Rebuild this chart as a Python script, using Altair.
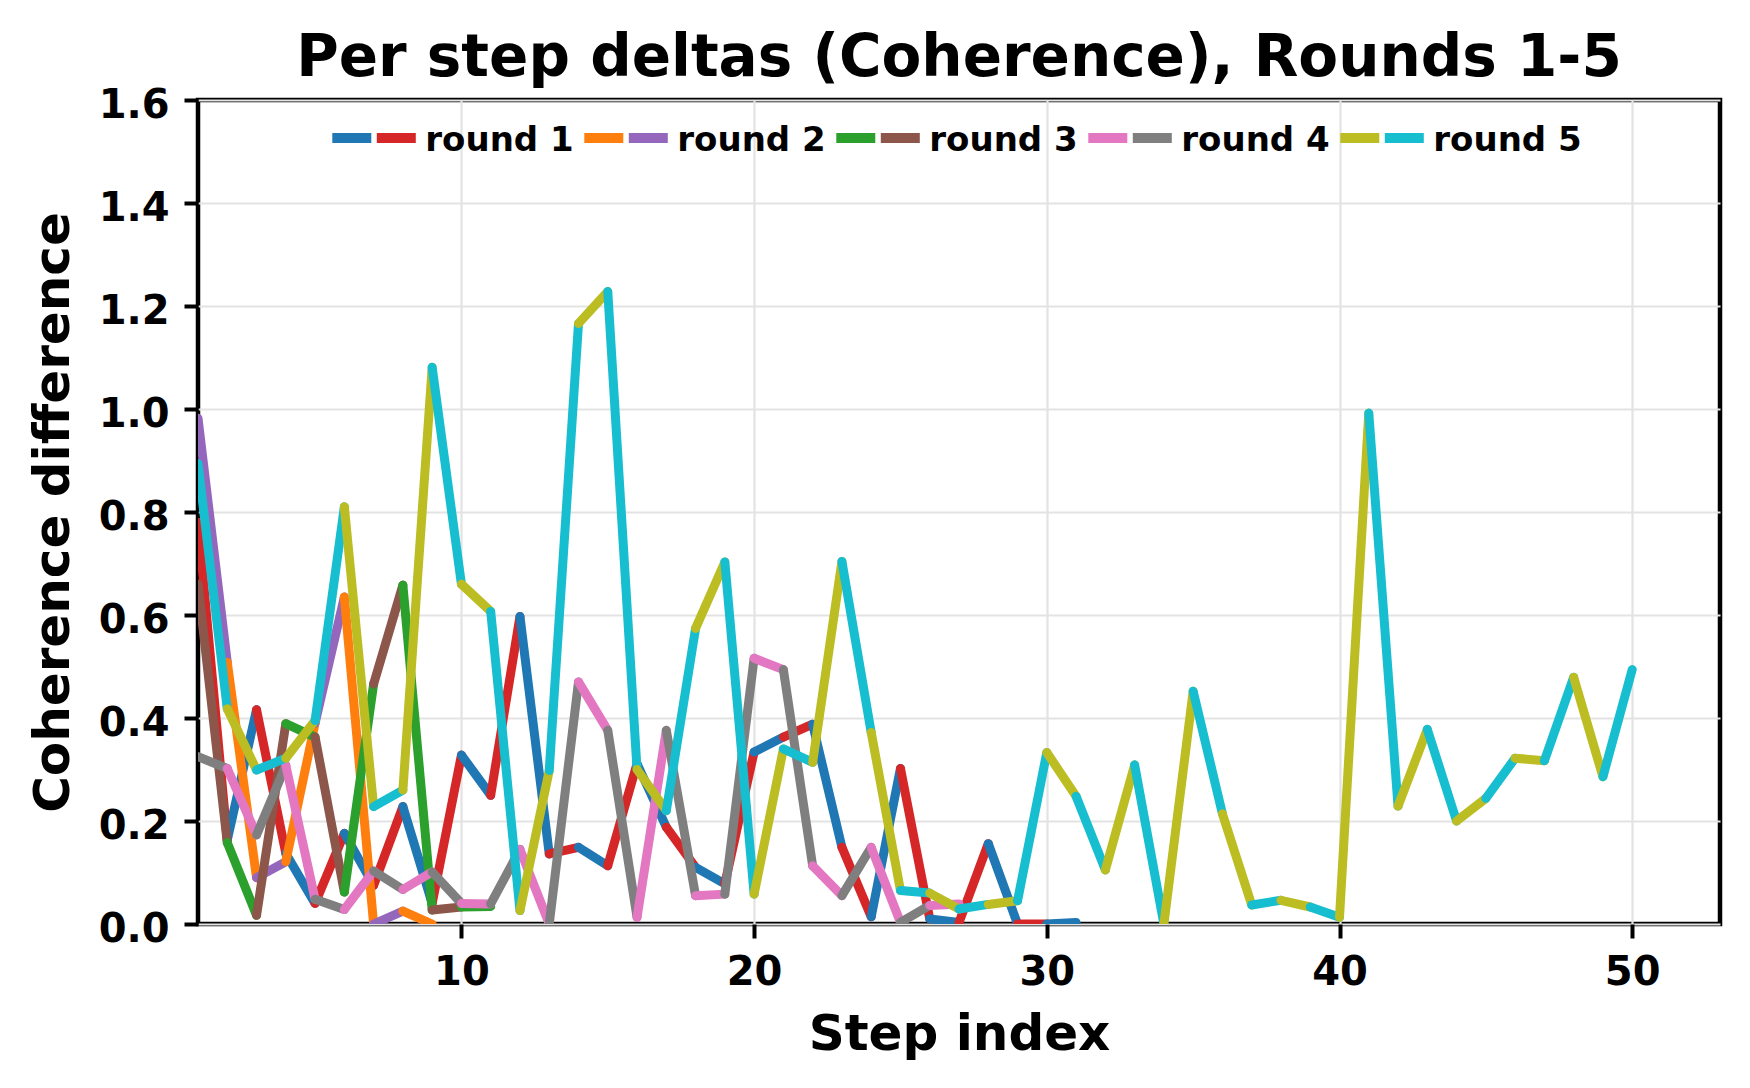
import altair as alt
import pandas as pd

# ---- data ----
round1 = [0.78, 0.163, 0.416, 0.137, 0.04, 0.176, 0.075, 0.228, 0.04, 0.328,
          0.25, 0.597, 0.136, 0.149, 0.113, 0.311, 0.188, 0.11, 0.078, 0.334,
          0.363, 0.388, 0.149, 0.014, 0.302, 0.01, 0.003, 0.156, 0.0, 0.0, 0.003]
round2 = [0.982, 0.508, 0.09, 0.121, 0.39, 0.635, 0.0, 0.025, 0.0]
round3 = [0.66, 0.158, 0.017, 0.389, 0.363, 0.062, 0.466, 0.658, 0.027, 0.033, 0.034]
round4 = [0.325, 0.302, 0.173, 0.308, 0.048, 0.028, 0.103, 0.067, 0.101, 0.04,
          0.039, 0.145, 0.0, 0.47, 0.376, 0.013, 0.376, 0.055, 0.058, 0.516,
          0.494, 0.113, 0.055, 0.149, 0.003, 0.036, 0.039]
round5 = [0.894, 0.418, 0.299, 0.322, 0.395, 0.81, 0.228, 0.26, 1.081, 0.66,
          0.607, 0.026, 0.298, 1.166, 1.228, 0.30, 0.22, 0.574, 0.703, 0.058,
          0.34, 0.314, 0.704, 0.372, 0.065, 0.06, 0.029, 0.038, 0.045, 0.333,
          0.248, 0.105, 0.309, 0.0, 0.452, 0.214, 0.037, 0.046, 0.033, 0.013,
          0.992, 0.229, 0.378, 0.2, 0.244, 0.322, 0.317, 0.479, 0.286, 0.494]

round_names = ["round 1", "round 2", "round 3", "round 4", "round 5"]
round_values = [round1, round2, round3, round4, round5]
# (colour of segments starting at even step, colour of segments starting at odd step)
round_colors = [("#1f77b4", "#d62728"), ("#ff7f0e", "#9467bd"), ("#2ca02c", "#8c564b"),
                ("#e377c2", "#7f7f7f"), ("#bcbd22", "#17becf")]

x_ticks = [10, 20, 30, 40, 50]
y_ticks = [0.0, 0.2, 0.4, 0.6, 0.8, 1.0, 1.2, 1.4, 1.6]

title_text = "Per step deltas (Coherence), Rounds 1-5"

# ---- build segment table ----
rows = []
for name, vals, (c1, c2) in zip(round_names, round_values, round_colors):
    for i in range(len(vals) - 1):
        k = i + 1
        rows.append({"round": name, "x": k, "y": vals[i], "xe": k + 1, "ye": vals[i + 1],
                     "color": c2 if k % 2 == 1 else c1})
df = pd.DataFrame(rows)

W, H = 1522, 824
FONT = "DejaVu Sans"

xs = alt.Scale(domain=[1, 53], nice=False, zero=False)
ys = alt.Scale(domain=[0, 1.6], nice=False, zero=False)

lines = alt.Chart(df).mark_rule(strokeWidth=9, strokeCap="round", clip=True).encode(
    x=alt.X("x:Q", scale=xs, axis=alt.Axis(
        values=x_ticks, format="d", title="Step index",
        labelFontSize=40, labelFont=FONT, labelFontWeight="bold", labelColor="black",
        labelPadding=14, tickSize=14, tickWidth=4, tickColor="black", domain=False,
        grid=True, gridColor="#e3e3e3", gridWidth=2.2,
        titleFontSize=50, titleFont=FONT, titleFontWeight="bold", titleColor="black",
        titleX=W / 2, titleY=125, titleAlign="center", titleBaseline="alphabetic")),
    x2=alt.X2("xe:Q"),
    y=alt.Y("y:Q", scale=ys, axis=alt.Axis(
        values=y_ticks, format=".1f", title="Coherence difference",
        labelFontSize=40, labelFont=FONT, labelFontWeight="bold", labelColor="black",
        labelPadding=15, labelBaseline="middle", labelOffset=5,
        tickSize=14, tickWidth=4, tickColor="black", domain=False,
        grid=True, gridColor="#e3e3e3", gridWidth=2.2,
        titleFontSize=50, titleFont=FONT, titleFontWeight="bold", titleColor="black",
        titleAngle=270, titleX=-130, titleY=H / 2, titleAlign="center",
        titleBaseline="alphabetic")),
    y2=alt.Y2("ye:Q"),
    color=alt.Color("color:N", scale=None),
)

one = pd.DataFrame({"a": [0]})
layers = [lines]

# legend (custom, two swatches per round)
leg_x0, leg_step, leg_y = 134.3, 252.0, 38.0
for i, (name, (c1, c2)) in enumerate(zip(round_names, round_colors)):
    x0 = leg_x0 + i * leg_step
    layers.append(alt.Chart(one).mark_rule(strokeWidth=10, strokeCap="butt", color=c1).encode(
        x=alt.value(x0), x2=alt.value(x0 + 39), y=alt.value(leg_y)))
    layers.append(alt.Chart(one).mark_rule(strokeWidth=10, strokeCap="butt", color=c2).encode(
        x=alt.value(x0 + 44.5), x2=alt.value(x0 + 83.5), y=alt.value(leg_y)))
    layers.append(alt.Chart(pd.DataFrame({"t": [name]})).mark_text(
        font=FONT, fontSize=34, fontWeight="bold", color="black",
        align="left", baseline="alphabetic").encode(
        x=alt.value(x0 + 93), y=alt.value(51), text="t:N"))

layers.append(alt.Chart(pd.DataFrame({"t": [title_text]})).mark_text(
    font=FONT, fontSize=58, fontWeight="bold", color="black",
    align="center", baseline="alphabetic").encode(
    x=alt.value(W / 2), y=alt.value(-24), text="t:N"))

chart = alt.layer(*layers).properties(
    width=W, height=H,
    autosize=alt.AutoSizeParams(type="none"),
    padding={"left": 190, "top": 92, "right": 20, "bottom": 140},
    background="white",
).configure_view(stroke="black", strokeWidth=4.5)

chart.save("out.html", embed_options={"renderer": "svg", "actions": False})
